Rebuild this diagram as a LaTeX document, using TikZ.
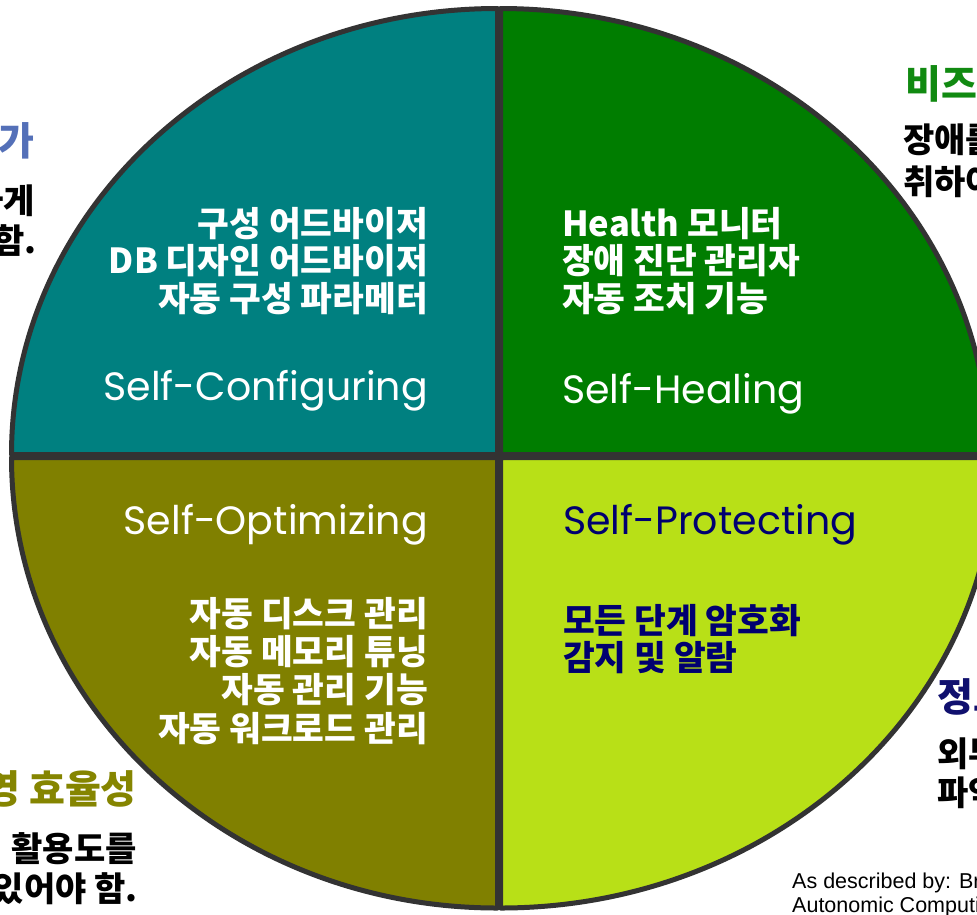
\documentclass[tikz,border=0pt]{standalone}
\usepackage{fontspec}
\newfontfamily\kr{Noto Sans CJK KR}
\newfontfamily\en{Poppins}
\newfontfamily\ar{Liberation Sans}
\definecolor{qborder}{HTML}{333333}
\definecolor{cteal}{HTML}{008080}
\definecolor{cgreen}{HTML}{007D00}
\definecolor{colive}{HTML}{808000}
\definecolor{clime}{HTML}{B8E017}
\definecolor{cnavy}{HTML}{000070}
\definecolor{hblue}{HTML}{5470B8}
\definecolor{hgreen}{HTML}{118A11}
\definecolor{holive}{HTML}{858500}
\definecolor{hnavy}{HTML}{10106E}
\begin{document}
\begin{tikzpicture}[x=1pt,y=-1pt,
  quad/.style={draw=qborder, line width=5pt, line join=round},
  kq/.style={font=\kr\bfseries\fontsize{34.5}{40}\selectfont, inner sep=0pt},
  ke/.style={font=\en\fontsize{39.5}{46}\selectfont, inner sep=0pt},
  kh/.style={font=\kr\bfseries\fontsize{39}{45}\selectfont, inner sep=0pt},
  kb/.style={font=\kr\bfseries\fontsize{34}{40}\selectfont, inner sep=0pt, text=black},
  note/.style={font=\ar\fontsize{21.5}{25}\selectfont, inner sep=0pt, text=black}]
\useasboundingbox (0,0) rectangle (977,914);
\fill[white] (0,0) rectangle (977,914);
\clip (0,0) rectangle (977,914);

% quadrants
\filldraw[quad, fill=cteal] (497.5,454.5) -- (497.5,8.5) arc[start angle=-90, end angle=-180, x radius=486, y radius=446] -- cycle;
\filldraw[quad, fill=cgreen] (500.5,454.5) -- (500.5,8.5) arc[start angle=-90, end angle=0, x radius=488, y radius=446] -- cycle;
\filldraw[quad, fill=colive] (497.5,457.5) -- (11.5,457.5) arc[start angle=180, end angle=90, x radius=486, y radius=450.5] -- cycle;
\filldraw[quad, fill=clime] (500.5,457.5) -- (995.5,457.5) arc[start angle=0, end angle=90, x radius=495, y radius=450.5] -- cycle;

% Self-Configuring
\node[kq, text=white, anchor=base east] (c1) at (428,236) {구성 어드바이저};
\node[kq, text=white, anchor=base east] (c2) at (428,273.5) {DB 디자인 어드바이저};
\node[kq, text=white, anchor=base east] (c3) at (428,311) {자동 구성 파라메터};
\node[ke, text=white, anchor=base east] (ce) at (428,400) {Self-Configuring};

% Self-Healing
\node[kq, text=white, anchor=base west] (h1) at (562,236) {Health 모니터};
\node[kq, text=white, anchor=base west] (h2) at (562,273.5) {장애 진단 관리자};
\node[kq, text=white, anchor=base west] (h3) at (562,311) {자동 조치 기능};
\node[ke, text=white, anchor=base west] (he) at (562,403) {Self-Healing};

% Self-Optimizing
\node[ke, text=white, anchor=base east] (oe) at (428,534) {Self-Optimizing};
\node[kq, text=white, anchor=base east] (o1) at (428,626) {자동 디스크 관리};
\node[kq, text=white, anchor=base east] (o2) at (428,664) {자동 메모리 튜닝};
\node[kq, text=white, anchor=base east] (o3) at (428,702.5) {자동 관리 기능};
\node[kq, text=white, anchor=base east] (o4) at (428,741) {자동 워크로드 관리};

% Self-Protecting
\node[ke, text=cnavy, anchor=base west] (pe) at (563,534) {Self-Protecting};
\node[kq, text=cnavy, anchor=base west] (p1) at (563,633) {모든 단계 암호화};
\node[kq, text=cnavy, anchor=base west] (p2) at (563,670) {감지 및 알람};

% outside texts (cut by the frame)
\node[kh, text=hblue, anchor=base east] (lh) at (35,155) {가};
\node[kb, anchor=base east] (l1) at (35,213) {하게};
\node[kb, anchor=base east] (l2) at (37,253) {함.};

\node[kh, text=hgreen, anchor=base west] (rh) at (905,98) {비즈};
\node[kb, anchor=base west] (r1) at (903,152) {장애를};
\node[kb, anchor=base west] (r2) at (903,194) {취하여};

\node[kh, text=holive, anchor=base east] (bh) at (137,803) {운영 효율성};
\node[kb, anchor=base east] (b1) at (137,861) {활용도를};
\node[kb, anchor=base east] (b2) at (138,901) {있어야 함.};

\node[kh, text=hnavy, anchor=base west] (sh) at (937,711) {정보};
\node[kb, anchor=base west] (s1) at (937,766) {외부};
\node[kb, anchor=base west] (s2) at (937,805) {파악};

\node[note, anchor=base west] (n1) at (792,888) {As described by: Br};
\node[note, anchor=base west] (n2) at (792,912) {Autonomic Computi};
\end{tikzpicture}
\end{document}
